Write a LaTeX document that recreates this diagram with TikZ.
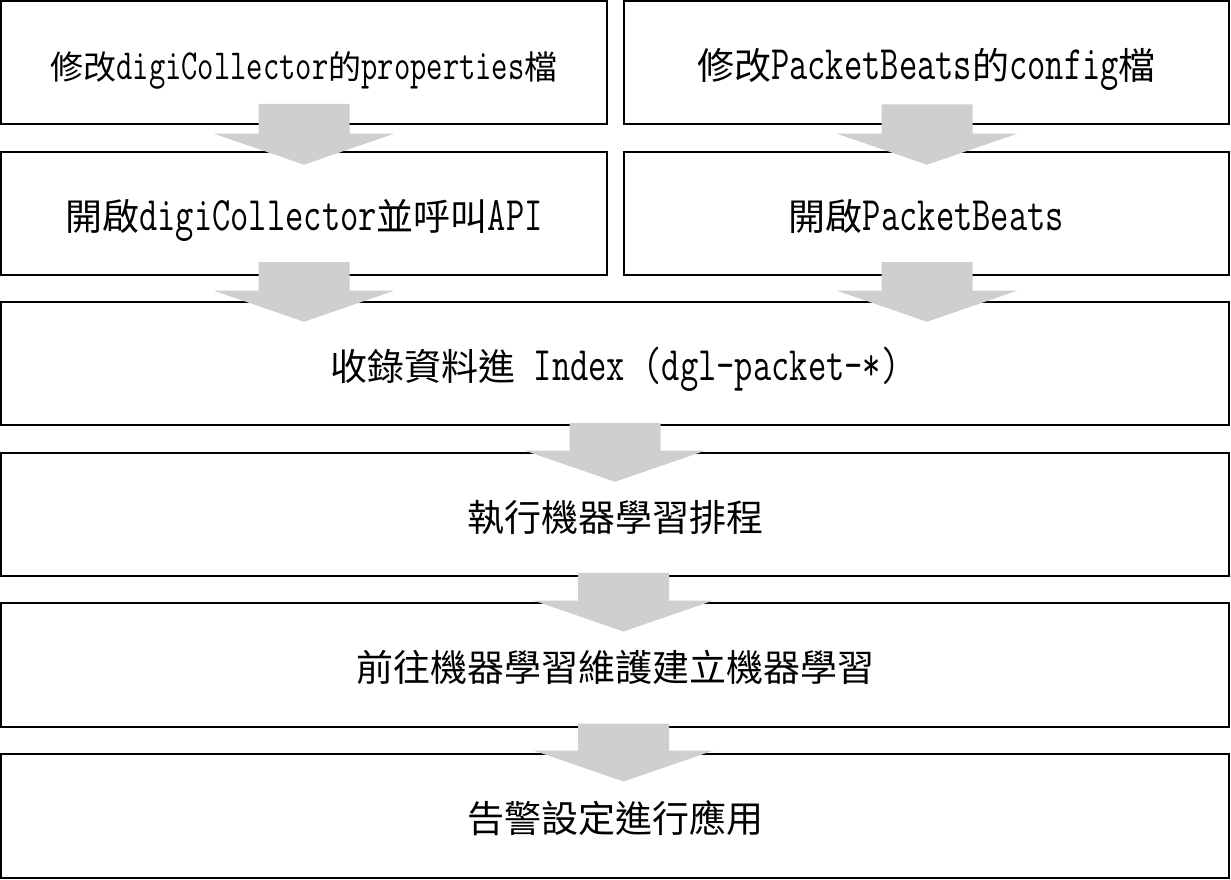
\documentclass[tikz,border=0pt]{standalone}
\usepackage{fontspec}
\usepackage{graphicx}
\usetikzlibrary{calc}

\newfontfamily\cjk{Noto Sans CJK TC}
\newcommand{\lat}[1]{\scalebox{0.96}[1.3]{\ttfamily #1}}
\definecolor{arrowgray}{RGB}{208,206,208}

% block arrow: from, to, x shift, start above from.south, tip below to.north
\newcommand{\grayarrow}[5]{%
\path ($(#1.south)+(#3,#4)$) coordinate (top);
\path ($(#2.north -| top)+(0,-#5)$) coordinate (tip);
\fill [arrowgray] ($(top)+(-45.5,0)$) -- ($(top)+(45.5,0)$) -- ($(tip)+(45.5,31)$)
  -- ($(tip)+(90,31)$) -- (tip) -- ($(tip)+(-90,31)$) -- ($(tip)+(-45.5,31)$) -- cycle;
}

\tikzset{box/.style={draw, line width=2pt, minimum height=123.5pt, inner sep=0pt,
  text height=40pt, text depth=6pt, font=\cjk\fontsize{37}{40}\selectfont}}

\begin{document}
\begin{tikzpicture}[x=1pt, y=1pt]
\useasboundingbox (0,0) rectangle (1231,879);

\node [box, minimum width=606pt, font=\cjk\fontsize{33}{36}\selectfont] (A) at (304,816.25)
  {修改\lat{digiCollector}的\lat{properties}檔};
\node [box, minimum width=605pt] (B) at (926.5,816.25)
  {修改\lat{PacketBeats}的\lat{config}檔};
\node [box, minimum width=606pt] (C) at (304,665.5)
  {開啟\lat{digiCollector}並呼叫\lat{API}};
\node [box, minimum width=605pt] (D) at (926.5,665.5)
  {開啟\lat{PacketBeats}};
\node [box, minimum width=1228pt] (E) at (615,515.5)
  {收錄資料進\lat{ Index (dgl-packet-*)}};
\node [box, minimum width=1228pt] (F) at (615,364.5) {執行機器學習排程};
\node [box, minimum width=1228pt] (G) at (615,214.25) {前往機器學習維護建立機器學習};
\node [box, minimum width=1228pt] (H) at (615,63.25) {告警設定進行應用};

\grayarrow{A}{C}{0}{21.5}{14}
\grayarrow{B}{D}{0.5}{21}{14}
\grayarrow{C}{E}{0}{14}{21}
\grayarrow{D}{E}{0.5}{14}{21}
\grayarrow{E}{F}{0}{3}{30}
\grayarrow{F}{G}{8.5}{4.5}{29.5}
\grayarrow{G}{H}{8.5}{4}{28.5}

\end{tikzpicture}
\end{document}
